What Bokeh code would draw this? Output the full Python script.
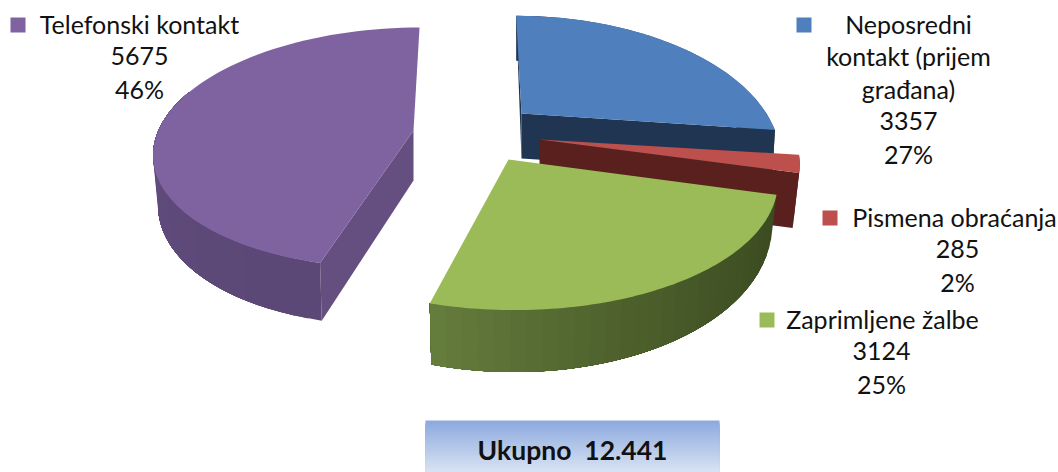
import math
from bokeh.plotting import figure
from bokeh.core.properties import value
from bokeh.embed import file_html
from bokeh.resources import INLINE

categories = ["Neposredni kontakt (prijem građana)", "Pismena obraćanja", "Zaprimljene žalbe", "Telefonski kontakt"]
counts = [3357, 285, 3124, 5675]
percents = ["27%", "2%", "25%", "46%"]
top_colors = ["#4f7fbc", "#bd504d", "#9bbb59", "#7f63a1"]
wall_colors = ["#1f3552", "#5a201d", "#43552a", "#654f80"]
side_from = [(31, 53, 82), (90, 32, 29), (60, 76, 33), (92, 72, 118)]
side_to = [(31, 53, 82), (90, 32, 29), (100, 124, 60), (100, 78, 130)]
label_lines = [["Neposredni", "kontakt (prijem", "građana)"], ["Pismena obraćanja"], ["Zaprimljene žalbe"], ["Telefonski kontakt"]]
total_label = "Ukupno \u00a012.441"

# projection of each exploded slice: arc centre, radii, perspective, shear, vertex, depth
slices = [
    dict(a=(521, 113), rx=245, ry=127, ux=-7, p=0.30, v=(521, 113), d0=45, d1=0, k=0.99),
    dict(a=(539, 139), rx=255, ry=120, ux=0, p=0.20, v=(539, 139), d0=55, d1=0, k=0.975),
    dict(a=(508, 159), rx=265.5, ry=128, ux=-5, p=0.15, v=(508, 159), d0=38, d1=24, k=0.98),
    dict(a=(403, 147), rx=250, ry=120, ux=16, p=0.0, v=(413, 130), d0=50, d1=8, k=0.98),
]

total = sum(counts)
starts = []
acc = 0.0
for c in counts:
    starts.append(acc)
    acc += c / total * 2 * math.pi


def top(g, th):
    s, c = math.sin(th), math.cos(th)
    w = 1 + g["p"] * c
    return g["a"][0] + (g["rx"] * s + g["ux"] * c) / w, g["a"][1] - g["ry"] * c / w


def bottom(g, th):
    x, y = top(g, th)
    return g["a"][0] + g["k"] * (x - g["a"][0]), y + g["d0"] - g["d1"] * math.cos(th)


def arc(g, t0, t1, n=80):
    return [top(g, t0 + (t1 - t0) * i / n) for i in range(n + 1)]


p = figure(width=1058, height=472, x_range=(0, 1058), y_range=(472, 0),
           output_backend="svg", toolbar_location=None, min_border=0)
p.axis.visible = False
p.grid.visible = False
p.outline_line_color = None


def poly(pts, color):
    p.patch([q[0] for q in pts], [q[1] for q in pts], fill_color=color, line_color=None)


def hexrgb(c):
    return "#%02x%02x%02x" % tuple(int(round(v)) for v in c)


for i, g in enumerate(slices):
    t0 = starts[i]
    t1 = t0 + counts[i] / total * 2 * math.pi
    v = g["v"]
    vb = (v[0], v[1] + g["d0"])
    if i == 0:
        poly([top(g, t0), v, vb], wall_colors[i])
        poly([v, top(g, t1), bottom(g, t1), vb], wall_colors[i])
    if i == 1:
        poly([v, top(g, t1), bottom(g, t1), vb], wall_colors[i])
    if i == 3:
        poly([v, top(g, t0), bottom(g, t0), vb], wall_colors[i])
    # outer wall: each band runs on to the far end, so later bands overpaint it
    lo, hi = t0, t1
    if i == 3:
        hi = t0 + (t1 - t0) * 0.62
    n = 30 if i in (2, 3) else 1
    for j in range(n):
        a0 = lo + (hi - lo) * j / n
        f = (j / max(n - 1, 1)) ** 1.6
        col = hexrgb([side_from[i][m] + (side_to[i][m] - side_from[i][m]) * f for m in range(3)])
        m = 14
        upper = [top(g, a0 + (hi - a0) * q / m) for q in range(m + 1)]
        lower = [bottom(g, a0 + (hi - a0) * q / m) for q in range(m, -1, -1)]
        poly(upper + lower, col)
    poly(arc(g, t0, t1) + [v], top_colors[i])

# legend squares
square_x = [796, 822, 759, 10]
square_y = [17, 210, 312, 17]
for i in range(4):
    p.quad(left=square_x[i], right=square_x[i] + 15, top=square_y[i], bottom=square_y[i] + 15,
           fill_color=top_colors[i], line_color=None)

# labels
block_x = [908, 954, 882, 139]
block_y = [23.5, 216.5, 318.5, 23.5]
line_step = 32.4
value_x = [908, 957, 881, 139]
for i in range(4):
    lines = label_lines[i]
    xs = [block_x[i]] * len(lines) + [value_x[i]] * 2
    ys = [block_y[i] + line_step * k for k in range(len(lines) + 2)]
    txt = lines + [str(counts[i]), percents[i]]
    p.text(x=xs, y=ys, text=txt, text_align="center", text_baseline="middle",
           text_font=value("Lato"), text_font_size="25px", text_color="#111111")

# total box
band_n = 26
c_top = (141, 170, 222)
c_bot = (216, 226, 243)
for j in range(band_n):
    y0 = 420 + 52 * j / band_n
    f = j / (band_n - 1)
    col = hexrgb([c_top[m] + (c_bot[m] - c_top[m]) * f for m in range(3)])
    p.quad(left=425, right=719, top=y0, bottom=472, fill_color=col, line_color=None)
p.text(x=[572], y=[449], text=[total_label], text_align="center", text_baseline="middle",
       text_font=value("Lato"), text_font_style="bold", text_font_size="26.5px", text_color="#111111")

open("out.html", "w").write(file_html(p, INLINE))
